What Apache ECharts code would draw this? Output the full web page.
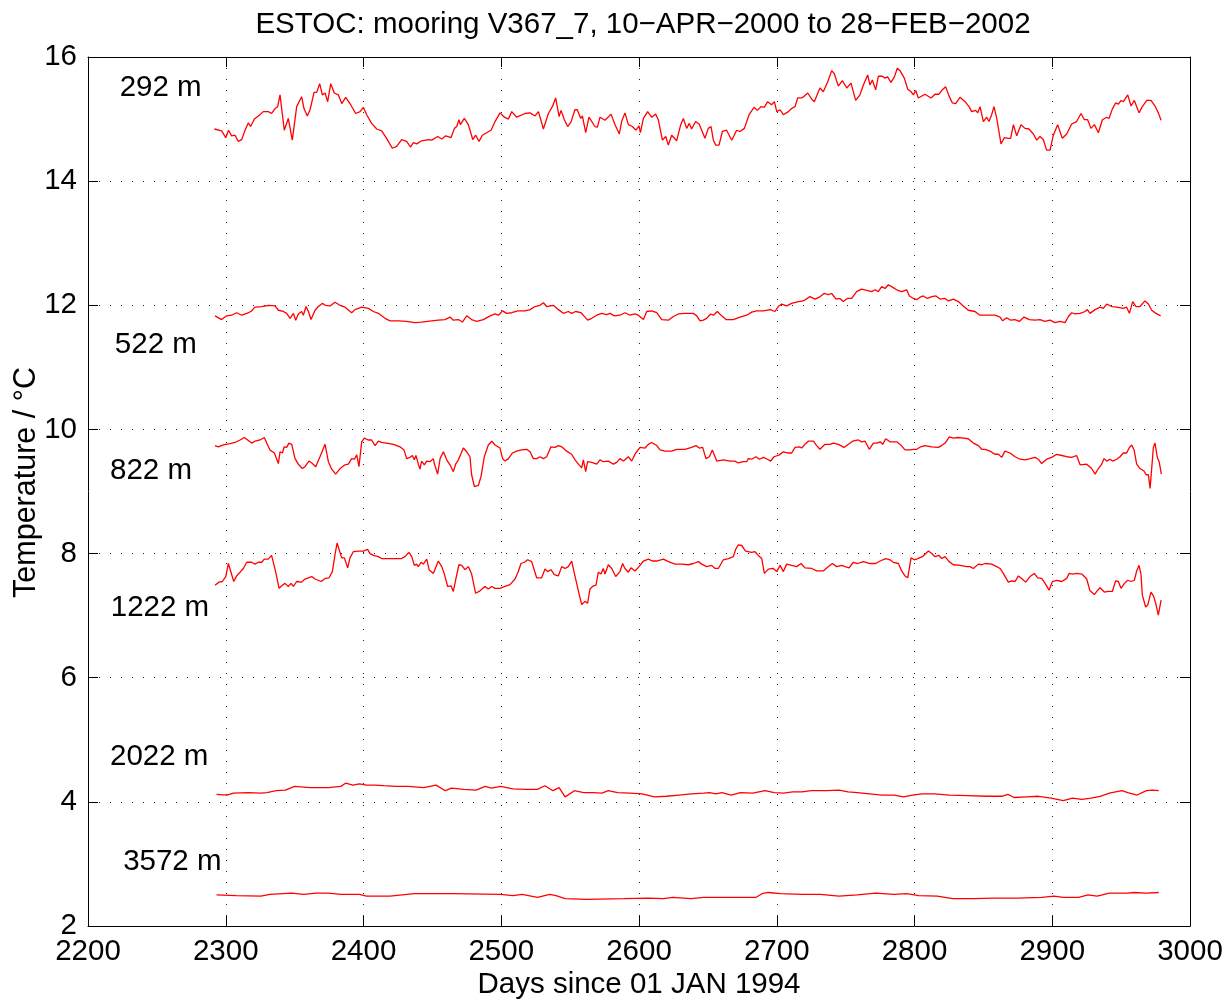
<!DOCTYPE html>
<html>
<head>
<meta charset="utf-8">
<script src="https://cdn.jsdelivr.net/npm/echarts@6/dist/echarts.min.js"></script>
<style>
  html, body { margin: 0; padding: 0; background: #fff; }
  #chart { width: 1231px; height: 1001px; }
</style>
</head>
<body>
<div id="chart"></div>
<script>
// axis setup
const xMin = 2200, xMax = 3000, xStep = 100
const yMin = 2, yMax = 16, yStep = 2

// depth labels, placed in data coordinates (left edge, vertical middle)
const depthLabels = ['292 m', '522 m', '822 m', '1222 m', '2022 m', '3572 m']
const labelDays = [2223, 2219.5, 2216, 2216.5, 2216, 2225.5]
const labelTemps = [15.5, 11.36, 9.34, 7.12, 4.73, 3.03]

// [day, temperature]
const t292 = [[2291.7,14.84],[2297,14.81],[2300,14.70],[2302,14.82],[2304.3,14.73],[2306.7,14.74],[2309.1,14.64],[2311.6,14.67],[2314,14.82],[2316.4,14.94],[2318,14.88],[2320.8,15.00],[2323.7,15.05],[2327.3,15.12],[2330.9,15.12],[2333.3,15.09],[2335.8,15.17],[2337.7,15.20],[2339.4,15.39],[2340,15.37],[2342.5,14.82],[2345.4,15.01],[2348.3,14.66],[2351.5,15.20],[2355.1,15.36],[2356.8,15.17],[2359.2,15.05],[2361.2,15.15],[2364.1,15.43],[2366,15.43],[2368.2,15.57],[2370.1,15.39],[2372.1,15.42],[2374,15.28],[2376.2,15.57],[2378.8,15.42],[2381.7,15.39],[2384.2,15.25],[2387.1,15.35],[2390.2,15.25],[2394.3,15.09],[2397.5,15.12],[2399.9,15.19],[2402.3,15.07],[2405.9,14.93],[2409.6,14.84],[2413.2,14.81],[2416.8,14.69],[2420.9,14.53],[2424.1,14.56],[2427.7,14.67],[2431.3,14.64],[2434.2,14.55],[2436.2,14.62],[2438.6,14.60],[2442.2,14.65],[2447.1,14.67],[2449.5,14.66],[2453.9,14.72],[2456.8,14.68],[2459.7,14.73],[2463.5,14.70],[2466,14.85],[2467.7,14.88],[2469.3,14.99],[2470.3,14.91],[2473.2,15.01],[2476.1,14.91],[2479.3,14.67],[2481.4,14.74],[2483.9,14.64],[2486.3,14.74],[2489.4,14.78],[2492.6,14.82],[2495.5,14.96],[2499.1,15.10],[2502.3,15.03],[2505.2,15.00],[2507.6,15.12],[2511.2,15.03],[2517.3,15.09],[2520.9,15.10],[2524.5,15.05],[2527,15.12],[2530.6,14.84],[2534.2,15.09],[2537.1,15.20],[2539.5,15.34],[2542,15.04],[2543.4,15.14],[2545.8,14.99],[2548.2,14.88],[2550.6,14.95],[2553.5,15.15],[2555.2,15.15],[2557.7,15.01],[2558.9,15.05],[2561.3,14.78],[2563.7,15.03],[2565.1,15.01],[2568,14.88],[2569.8,14.87],[2571.7,15.03],[2575.3,14.98],[2579.7,15.08],[2582.6,14.91],[2585.7,14.76],[2587.4,14.96],[2589.8,15.10],[2592.3,14.91],[2595.2,14.88],[2597.8,14.82],[2600,14.89],[2601,14.78],[2603.2,15.01],[2606.3,15.12],[2609.2,15.03],[2612.1,15.08],[2614,14.99],[2617,14.66],[2619.4,14.72],[2621.3,14.58],[2623.7,14.74],[2627.3,14.65],[2630.3,14.91],[2632.2,15.01],[2634.6,14.85],[2636.5,14.93],[2638.2,14.84],[2641.1,14.96],[2643.6,14.92],[2645.5,14.82],[2647.9,14.69],[2650.3,14.85],[2652.3,14.88],[2654,14.66],[2655.7,14.58],[2658.1,14.58],[2660.5,14.80],[2663.6,14.82],[2667.3,14.66],[2670.9,14.82],[2673.3,14.80],[2676.5,14.85],[2679.9,15.07],[2683.5,15.19],[2685.9,15.14],[2688.6,15.20],[2691,15.19],[2693.4,15.28],[2696.3,15.23],[2698.3,15.28],[2700,15.12],[2702.4,15.15],[2704.8,15.07],[2708.4,15.12],[2710.8,15.17],[2713.3,15.20],[2715.2,15.34],[2718.1,15.34],[2720,15.37],[2722.5,15.42],[2725.4,15.32],[2727.3,15.28],[2730.2,15.44],[2731.4,15.50],[2733.8,15.44],[2737,15.60],[2739.9,15.78],[2741.8,15.73],[2744.7,15.53],[2747.6,15.62],[2750.8,15.50],[2753.9,15.58],[2757.3,15.30],[2760.4,15.39],[2762.9,15.55],[2766,15.71],[2767.7,15.55],[2769.4,15.63],[2771.8,15.47],[2773.8,15.69],[2776.7,15.69],[2778.6,15.66],[2780.5,15.68],[2782.9,15.59],[2785.4,15.68],[2787.5,15.82],[2789.5,15.78],[2792.6,15.66],[2795.1,15.48],[2797.5,15.44],[2799.2,15.39],[2800.9,15.46],[2802.8,15.34],[2807.6,15.40],[2812,15.34],[2814.9,15.40],[2817.8,15.40],[2819.7,15.46],[2822.6,15.52],[2825.1,15.37],[2827.5,15.26],[2829.9,15.25],[2833,15.35],[2836.7,15.28],[2839.6,15.20],[2841.5,15.12],[2844.4,15.14],[2845.9,15.10],[2847.6,15.20],[2850,14.96],[2852.4,15.03],[2854.1,14.96],[2856,15.07],[2857.7,15.20],[2859.7,15.01],[2862.8,14.60],[2865.2,14.70],[2868.1,14.69],[2869.8,14.69],[2871.8,14.91],[2874.2,14.73],[2877.3,14.91],[2880.2,14.85],[2883.1,14.84],[2886.3,14.76],[2888.7,14.66],[2891.1,14.72],[2893.5,14.67],[2895.9,14.50],[2898.4,14.50],[2900.8,14.74],[2903.9,14.91],[2907.3,14.69],[2910.5,14.76],[2914.1,14.92],[2917.7,14.96],[2920.9,15.09],[2923.3,14.99],[2925.7,14.99],[2928.1,14.85],[2930.6,14.91],[2933.5,14.78],[2936.4,14.99],[2939.5,15.03],[2941.2,15.01],[2943.6,15.16],[2946,15.26],[2948,15.24],[2950,15.30],[2951.6,15.28],[2954.8,15.39],[2957.2,15.21],[2959.6,15.30],[2963,15.10],[2965.4,15.20],[2968.6,15.30],[2971.7,15.30],[2974.6,15.21],[2977,15.10],[2979,14.98]]

const t522 = [[2292.2,11.83],[2297,11.77],[2300.7,11.83],[2304.3,11.84],[2307.9,11.88],[2311.6,11.84],[2315.2,11.87],[2318.3,11.90],[2321.2,11.97],[2326.1,11.98],[2330.9,12.00],[2335.8,11.99],[2338.2,11.92],[2341.8,11.90],[2344.2,11.87],[2346.7,11.79],[2349.1,11.87],[2350.8,11.76],[2352.7,11.86],[2355.1,11.90],[2356.3,11.84],[2358.3,11.98],[2360,11.90],[2361.9,11.77],[2364.8,11.92],[2367.2,11.98],[2370.1,12.03],[2372.5,12.00],[2375.7,11.99],[2379.3,12.05],[2382.9,12.00],[2386.6,11.97],[2391.4,11.88],[2393.8,11.93],[2398.7,11.97],[2403.5,11.95],[2407.2,11.90],[2410.8,11.87],[2415.6,11.79],[2419.3,11.75],[2425.3,11.75],[2431.3,11.74],[2437.4,11.72],[2442.2,11.73],[2449.5,11.75],[2454.3,11.76],[2459.2,11.77],[2462.8,11.81],[2465.2,11.76],[2468.9,11.77],[2471.8,11.73],[2474.9,11.83],[2478.5,11.77],[2482.2,11.74],[2487,11.77],[2491.9,11.83],[2495.5,11.86],[2497.9,11.84],[2501,11.91],[2503.9,11.87],[2507.6,11.88],[2512,11.91],[2517.3,11.91],[2520.9,11.93],[2524.5,11.98],[2528.2,12.00],[2530.6,12.04],[2533,11.98],[2537.8,12.00],[2541.5,11.93],[2545.1,11.87],[2548.7,11.90],[2551.1,11.87],[2554,11.90],[2557.9,11.88],[2560.8,11.81],[2562.7,11.76],[2565.7,11.79],[2569.3,11.84],[2572.9,11.87],[2576.5,11.85],[2579,11.87],[2582.1,11.83],[2586.2,11.84],[2589.9,11.88],[2593.5,11.84],[2597.1,11.86],[2599.5,11.84],[2603.2,11.77],[2605.6,11.90],[2609.2,11.91],[2612.9,11.88],[2616.5,11.77],[2621.3,11.76],[2625,11.82],[2628.6,11.86],[2633.4,11.87],[2639.4,11.87],[2641.9,11.83],[2644.3,11.75],[2646.7,11.76],[2649.1,11.79],[2652,11.86],[2654,11.84],[2656.9,11.90],[2660,11.83],[2663.2,11.77],[2668.5,11.77],[2673.3,11.81],[2678.2,11.84],[2681.8,11.89],[2685.4,11.91],[2690.3,11.91],[2695.1,11.93],[2698.7,11.90],[2701.1,11.98],[2703.6,12.02],[2707.2,11.99],[2710.8,12.03],[2715.7,12.06],[2719.3,12.07],[2724.1,12.14],[2727.8,12.10],[2730.9,12.13],[2734.3,12.19],[2737.4,12.17],[2739.9,12.19],[2743,12.10],[2745.9,12.11],[2748.3,12.06],[2751.2,12.11],[2754.4,12.11],[2758,12.22],[2761.6,12.26],[2765.3,12.24],[2768.9,12.22],[2771.3,12.25],[2773.7,12.22],[2776.2,12.30],[2778.6,12.27],[2781,12.33],[2783.4,12.30],[2787,12.25],[2790.7,12.22],[2794.3,12.25],[2796.3,12.15],[2799.2,12.11],[2801.6,12.09],[2804,12.13],[2806.4,12.15],[2809.3,12.11],[2812.5,12.14],[2815.6,12.15],[2818.5,12.10],[2822.2,12.11],[2824.6,12.07],[2828.2,12.10],[2831.8,12.06],[2835.4,11.99],[2839.1,11.92],[2843.9,11.90],[2847.5,11.84],[2852.4,11.84],[2858.4,11.84],[2862.1,11.81],[2864,11.75],[2866.9,11.80],[2869.8,11.76],[2873,11.77],[2876.1,11.74],[2879.5,11.81],[2883.4,11.77],[2887.5,11.76],[2891.1,11.77],[2894.7,11.74],[2898.4,11.76],[2902,11.72],[2905.6,11.74],[2909.3,11.72],[2911.7,11.82],[2914.1,11.88],[2916.5,11.86],[2920.2,11.87],[2923.8,11.90],[2925.5,11.93],[2927.4,11.87],[2931.1,11.93],[2934.7,11.97],[2937.1,11.95],[2939.5,12.02],[2943.2,11.98],[2946.8,11.97],[2951.6,11.95],[2954,11.97],[2956,11.87],[2958.4,12.06],[2960.8,11.98],[2963.7,11.98],[2967.3,12.07],[2969.8,12.02],[2972.2,11.92],[2975.3,11.87],[2978.7,11.83]]

const t822 = [[2292.2,9.74],[2294.6,9.72],[2298.2,9.75],[2303.1,9.77],[2306.7,9.79],[2310.4,9.83],[2313.5,9.87],[2315.9,9.83],[2318.8,9.78],[2321.2,9.81],[2324.9,9.83],[2328,9.87],[2329.7,9.78],[2332.1,9.67],[2335.3,9.62],[2338.2,9.45],[2339.4,9.64],[2341.1,9.62],[2342.5,9.72],[2344.2,9.71],[2345.9,9.78],[2347.9,9.76],[2350.3,9.53],[2352.7,9.44],[2355.6,9.37],[2357.5,9.40],[2360.4,9.49],[2362.9,9.45],[2365.3,9.40],[2368.4,9.56],[2372.1,9.76],[2374.5,9.48],[2376.9,9.36],[2379.8,9.28],[2383,9.37],[2386.6,9.43],[2389,9.44],[2391.4,9.53],[2393.4,9.52],[2395.1,9.59],[2396.7,9.40],[2398.7,9.80],[2400.6,9.86],[2403.5,9.83],[2405.9,9.83],[2408.4,9.74],[2410.8,9.81],[2413.2,9.79],[2416.8,9.78],[2421.7,9.76],[2426.5,9.72],[2429.4,9.67],[2431.3,9.53],[2433.8,9.55],[2435.5,9.58],[2436.9,9.51],[2438.1,9.58],[2439.8,9.44],[2441,9.36],[2442.2,9.49],[2444.2,9.43],[2445.9,9.49],[2448.3,9.48],[2450.7,9.53],[2451.4,9.45],[2453.8,9.28],[2455.6,9.53],[2458,9.64],[2460.4,9.51],[2462.8,9.43],[2465.2,9.32],[2466.9,9.44],[2468.9,9.51],[2472.5,9.70],[2474.9,9.64],[2477.3,9.56],[2478.5,9.27],[2480.5,9.08],[2483.4,9.10],[2485.3,9.24],[2487.7,9.56],[2490.6,9.75],[2493.1,9.81],[2495.5,9.75],[2499.1,9.70],[2501,9.53],[2502.7,9.49],[2505.2,9.53],[2508.1,9.62],[2511.2,9.65],[2514.8,9.67],[2518.5,9.68],[2520.9,9.64],[2523.3,9.53],[2525.7,9.53],[2528.2,9.56],[2530.6,9.53],[2533,9.56],[2534.2,9.53],[2536.1,9.72],[2539,9.71],[2541.5,9.74],[2543.9,9.72],[2547.5,9.65],[2551.1,9.60],[2553.6,9.51],[2556,9.44],[2558.4,9.38],[2559.6,9.51],[2561.3,9.32],[2562.7,9.48],[2565.7,9.47],[2569.3,9.44],[2571.7,9.51],[2574.1,9.48],[2577.8,9.49],[2581.4,9.44],[2583.8,9.47],[2586.2,9.53],[2588.7,9.49],[2592.3,9.56],[2594.7,9.49],[2597.6,9.62],[2600.7,9.71],[2604.4,9.70],[2606.8,9.76],[2609.2,9.79],[2612.9,9.74],[2615.3,9.67],[2618.9,9.65],[2623.7,9.65],[2627.4,9.68],[2633.4,9.68],[2638.2,9.71],[2641.4,9.74],[2643.8,9.70],[2646.2,9.71],[2648.6,9.53],[2651.1,9.56],[2653.2,9.67],[2655.2,9.56],[2656.4,9.49],[2661.2,9.51],[2666.1,9.49],[2669.7,9.49],[2672.1,9.46],[2675.7,9.48],[2678.2,9.48],[2679.4,9.53],[2681.8,9.52],[2684.9,9.56],[2687.4,9.52],[2690.3,9.55],[2693.2,9.52],[2695.6,9.49],[2698,9.56],[2701.9,9.59],[2704.8,9.64],[2708.4,9.62],[2710.8,9.62],[2713.3,9.71],[2716.4,9.72],[2718.1,9.70],[2720.5,9.76],[2722.9,9.81],[2726.6,9.81],[2729,9.74],[2731.4,9.68],[2735,9.76],[2738.7,9.76],[2741.1,9.78],[2744.7,9.76],[2748.8,9.71],[2752,9.76],[2755.1,9.81],[2759.2,9.83],[2761.7,9.80],[2764.1,9.81],[2767.2,9.68],[2770.1,9.78],[2772.5,9.78],[2775,9.80],[2776.9,9.76],[2779.1,9.85],[2782.2,9.80],[2787.1,9.80],[2790,9.75],[2793.1,9.67],[2796.7,9.67],[2799.2,9.68],[2801.6,9.68],[2804.5,9.72],[2807.6,9.74],[2812.5,9.72],[2817.3,9.71],[2819.7,9.74],[2822.2,9.78],[2825.3,9.88],[2828.2,9.86],[2831.8,9.87],[2835.5,9.86],[2839.1,9.85],[2842.7,9.78],[2846.4,9.74],[2848.8,9.68],[2850,9.65],[2851.2,9.68],[2854.8,9.65],[2858.4,9.60],[2860.9,9.60],[2863.3,9.55],[2865.7,9.65],[2869.3,9.62],[2873,9.56],[2876.6,9.52],[2880.2,9.51],[2883.9,9.53],[2887.5,9.55],[2889.9,9.52],[2892.3,9.45],[2896,9.52],[2899.6,9.55],[2903.2,9.60],[2906.9,9.58],[2910.5,9.56],[2914.1,9.55],[2917.7,9.58],[2920.2,9.43],[2925,9.44],[2928.6,9.37],[2931.1,9.28],[2933.5,9.37],[2935.9,9.44],[2937.6,9.53],[2939.5,9.49],[2941.9,9.52],[2943.9,9.49],[2946.8,9.52],[2949.2,9.56],[2951.6,9.62],[2954,9.62],[2956,9.71],[2957.7,9.75],[2959.4,9.67],[2961.3,9.44],[2963.7,9.37],[2966.6,9.33],[2968.1,9.27],[2969.8,9.27],[2971,9.05],[2972.2,9.37],[2973.4,9.71],[2974.6,9.78],[2976.3,9.55],[2977.7,9.47],[2979.2,9.28]]

const t1222 = [[2292.2,7.49],[2295.1,7.54],[2297.5,7.55],[2300,7.63],[2301.9,7.84],[2303.8,7.70],[2305.8,7.55],[2307.9,7.64],[2310.4,7.70],[2312.8,7.76],[2315.2,7.86],[2318.8,7.86],[2321.2,7.83],[2323.7,7.86],[2326.1,7.86],[2328,7.91],[2330.9,7.91],[2333.3,7.97],[2334.6,7.98],[2336.2,7.71],[2338.7,7.44],[2341.1,7.49],[2343,7.52],[2345.4,7.47],[2347.4,7.52],[2349.1,7.47],[2351.5,7.55],[2355.1,7.54],[2357.5,7.59],[2362.4,7.63],[2364.8,7.59],[2369.2,7.55],[2372.1,7.60],[2375,7.61],[2377.4,7.71],[2379.3,7.98],[2380.8,8.17],[2382.2,8.15],[2384.2,7.93],[2386.1,7.93],[2388.5,7.77],[2390.2,7.93],[2392.6,8.03],[2396.3,8.04],[2399.9,8.04],[2403,8.07],[2404.7,8.00],[2407.2,7.97],[2410.8,7.95],[2413.2,7.92],[2420.5,7.92],[2427.7,7.92],[2430.1,7.95],[2433,8.02],[2435,7.95],[2436.9,7.81],[2438.6,7.83],[2439.8,7.79],[2441.8,7.86],[2443.4,7.83],[2445.9,7.91],[2447.6,7.74],[2450.7,7.68],[2454.3,7.88],[2456.8,7.79],[2458.7,7.67],[2461.1,7.47],[2463.5,7.48],[2465.2,7.39],[2467.7,7.66],[2469.3,7.82],[2471.3,7.81],[2473.7,7.74],[2476.1,7.79],[2478.5,7.67],[2481.4,7.36],[2484.6,7.40],[2488.2,7.47],[2490.6,7.43],[2493.1,7.47],[2495.5,7.44],[2499.1,7.44],[2502.7,7.47],[2506.4,7.50],[2510,7.59],[2512.4,7.71],[2514.3,7.84],[2516.8,7.86],[2519.2,7.90],[2522.1,7.87],[2523.3,7.84],[2525.7,7.61],[2529.3,7.61],[2531.8,7.75],[2533.7,7.71],[2536.1,7.74],[2538.5,7.66],[2541.4,7.64],[2543.9,7.79],[2546.3,7.76],[2548.7,7.79],[2551.1,7.88],[2553.5,7.64],[2554.8,7.67],[2556.4,7.36],[2558.4,7.18],[2560.8,7.23],[2562.7,7.20],[2564.4,7.43],[2566.9,7.48],[2568.8,7.49],[2570.5,7.70],[2572.4,7.67],[2574.1,7.76],[2575.3,7.67],[2577.7,7.82],[2580.2,7.76],[2583.1,7.63],[2586.2,7.71],[2588.1,7.84],[2589.8,7.76],[2592.3,7.70],[2594.2,7.77],[2597.1,7.72],[2600,7.79],[2603.2,7.88],[2606.8,7.91],[2609.7,7.88],[2612.8,7.88],[2617.7,7.91],[2621.3,7.87],[2626.1,7.83],[2630.9,7.83],[2635.8,7.82],[2639.5,7.84],[2643.1,7.87],[2645.5,7.83],[2649.1,7.79],[2652.8,7.81],[2655.2,7.76],[2657.6,7.76],[2661.2,7.90],[2664.9,7.92],[2668.5,7.95],[2670.2,8.07],[2672.1,8.14],[2674.5,8.13],[2677.4,8.04],[2681.8,8.02],[2684.2,8.03],[2686.6,7.97],[2689.1,7.92],[2691,7.68],[2693.9,7.75],[2697.5,7.76],[2700,7.71],[2702.4,7.81],[2704.8,7.71],[2707.2,7.83],[2710.8,7.81],[2714.5,7.79],[2717.6,7.84],[2720.5,7.77],[2725.4,7.76],[2729,7.72],[2733.8,7.72],[2737.5,7.79],[2740.4,7.84],[2743.5,7.79],[2747.1,7.81],[2749.6,7.79],[2752.5,7.77],[2755.6,7.86],[2758.7,7.84],[2762.9,7.87],[2767.7,7.84],[2771.8,7.84],[2775,7.88],[2779.1,7.92],[2782.2,7.90],[2784.6,7.86],[2788.3,7.84],[2790.7,7.72],[2793.1,7.64],[2795.1,7.61],[2797.5,7.93],[2799.9,7.90],[2802.3,7.92],[2805.7,7.95],[2810.1,8.04],[2812.5,8.00],[2814.9,7.95],[2817.8,7.97],[2819.7,7.92],[2822.2,7.95],[2825.1,7.87],[2828.2,7.82],[2833,7.81],[2837.9,7.79],[2840.3,7.79],[2842.7,7.76],[2846.4,7.83],[2848.8,7.82],[2851.2,7.84],[2856,7.83],[2859.7,7.79],[2862.1,7.76],[2864.5,7.68],[2868.1,7.54],[2870.6,7.56],[2873,7.55],[2875.4,7.64],[2877.8,7.60],[2880.7,7.54],[2883.9,7.63],[2887,7.68],[2889.4,7.61],[2892.3,7.60],[2894.8,7.52],[2897.7,7.41],[2900.1,7.55],[2903.2,7.57],[2906.9,7.55],[2910.5,7.60],[2912.2,7.68],[2914.6,7.67],[2917.7,7.68],[2921.4,7.67],[2923.3,7.63],[2925,7.59],[2927.4,7.40],[2930.6,7.34],[2932.3,7.39],[2934.7,7.45],[2937.8,7.38],[2940.7,7.39],[2943.6,7.39],[2946,7.56],[2948,7.55],[2949.9,7.44],[2952.4,7.52],[2954.8,7.57],[2957.2,7.55],[2959.6,7.57],[2961.3,7.72],[2963,7.81],[2964.4,7.67],[2965.4,7.33],[2967.8,7.14],[2969.3,7.17],[2971.7,7.38],[2973.6,7.31],[2975.1,7.20],[2977,7.01],[2979,7.25]]

const t2022 = [[2293.3,4.12],[2300.9,4.11],[2305.4,4.14],[2316.5,4.15],[2325.4,4.14],[2329.9,4.15],[2336.6,4.18],[2343.3,4.19],[2350,4.25],[2361.2,4.23],[2374.5,4.23],[2383.5,4.25],[2387,4.30],[2392.4,4.27],[2396.9,4.29],[2402.2,4.27],[2408,4.27],[2414.7,4.26],[2423.7,4.25],[2432.6,4.25],[2443.7,4.23],[2452.7,4.27],[2459.4,4.18],[2463.8,4.22],[2472.8,4.20],[2481.7,4.19],[2488.4,4.25],[2492.8,4.22],[2499.5,4.25],[2508.5,4.21],[2517.4,4.20],[2526.3,4.20],[2531.7,4.26],[2537.5,4.18],[2542,4.23],[2546.4,4.08],[2553.1,4.18],[2559.8,4.15],[2566.5,4.15],[2573.2,4.14],[2577.7,4.18],[2584.4,4.15],[2593.3,4.14],[2602.2,4.13],[2611.1,4.08],[2620.1,4.09],[2629,4.11],[2637.9,4.13],[2646.9,4.14],[2651.3,4.15],[2655.8,4.13],[2660.2,4.15],[2666.9,4.11],[2673.6,4.15],[2682.6,4.14],[2691.5,4.18],[2698.2,4.15],[2704.9,4.14],[2711.6,4.16],[2718.3,4.16],[2725,4.18],[2736.1,4.18],[2745.1,4.19],[2751.8,4.16],[2758.5,4.15],[2767.4,4.13],[2776.3,4.11],[2785.2,4.11],[2791.9,4.08],[2798.7,4.11],[2805.4,4.13],[2814.3,4.13],[2825.4,4.11],[2838.8,4.10],[2852.2,4.09],[2863.4,4.09],[2867.8,4.12],[2872.3,4.07],[2881.2,4.08],[2890.1,4.09],[2899.1,4.06],[2908,4.02],[2914.7,4.06],[2921.4,4.04],[2928.1,4.06],[2934.8,4.09],[2941.5,4.14],[2950.5,4.18],[2954.9,4.15],[2961.6,4.11],[2968.3,4.18],[2972.8,4.19],[2977.3,4.18]]

const t3572 = [[2293.3,2.50],[2307.6,2.49],[2325.4,2.48],[2332.1,2.51],[2347.8,2.53],[2356.7,2.51],[2365.6,2.53],[2374.5,2.53],[2383.5,2.51],[2396.9,2.51],[2402.2,2.48],[2419.2,2.48],[2428.1,2.50],[2437,2.52],[2463.8,2.52],[2499.5,2.51],[2508.5,2.49],[2515.2,2.51],[2526.3,2.46],[2535.3,2.51],[2539.7,2.49],[2546.4,2.44],[2562,2.43],[2588.8,2.44],[2606.7,2.45],[2617.8,2.44],[2624.5,2.46],[2637.9,2.44],[2646.9,2.46],[2669.2,2.46],[2684.8,2.46],[2689.3,2.52],[2693.8,2.54],[2702.7,2.52],[2718.3,2.51],[2731.7,2.51],[2745.1,2.48],[2758.5,2.50],[2771.8,2.53],[2785.2,2.51],[2794.2,2.52],[2803.1,2.49],[2816.5,2.48],[2827.7,2.44],[2843.3,2.44],[2856.7,2.45],[2874.6,2.45],[2892.4,2.46],[2901.3,2.48],[2908,2.46],[2919.2,2.46],[2925.9,2.50],[2932.6,2.48],[2941.5,2.53],[2954.9,2.53],[2959.4,2.54],[2968.3,2.53],[2977.3,2.54]]

const seriesData = [t292, t522, t822, t1222, t2022, t3572]

const chart = echarts.init(document.getElementById('chart'))
const fontFamily = '"Liberation Sans", Arial, Helvetica, sans-serif'
const fontSize = 29.5
const dottedGrid = { show: true, lineStyle: { color: '#222', type: [1, 10], width: 1 } }
const insideTick = { show: true, inside: true, length: 10, lineStyle: { color: '#000', width: 1 } }
const solidLine = { show: true, onZero: false, lineStyle: { color: '#000', width: 1 } }

chart.setOption({
  backgroundColor: '#fff',
  animation: false,
  title: {
    text: 'ESTOC: mooring V367_7, 10\u2212APR\u22122000 to 28\u2212FEB\u22122002',
    left: 638,
    textAlign: 'center',
    top: 5,
    textStyle: { fontFamily, fontSize, fontWeight: 'normal', color: '#000' }
  },
  grid: { left: 88, top: 57, width: 1102, height: 869, containLabel: false, outerBoundsMode: 'none' },
  xAxis: [
    {
      type: 'value', min: xMin, max: xMax, interval: xStep, position: 'bottom',
      name: 'Days since 01 JAN 1994', nameLocation: 'middle', nameGap: 44, nameMoveOverlap: false,
      nameTextStyle: { fontFamily, fontSize, color: '#000' },
      axisLine: solidLine, axisTick: insideTick,
      axisLabel: { fontFamily, fontSize, color: '#000', margin: 11, formatter: (v) => String(v) },
      splitLine: dottedGrid
    },
    {
      type: 'value', min: xMin, max: xMax, interval: xStep, position: 'top',
      axisLine: solidLine, axisTick: insideTick, axisLabel: { show: false }, splitLine: { show: false }
    }
  ],
  yAxis: [
    {
      type: 'value', min: yMin, max: yMax, interval: yStep, position: 'left',
      name: 'Temperature / \u00B0C', nameLocation: 'middle', nameGap: 46, nameRotate: 90, nameMoveOverlap: false,
      nameTextStyle: { fontFamily, fontSize: 30.5, color: '#000', padding: [0, 0, 0, 18] },
      axisLine: solidLine, axisTick: insideTick,
      axisLabel: { fontFamily, fontSize, color: '#000', margin: 11, formatter: (v) => String(v) },
      splitLine: dottedGrid
    },
    {
      type: 'value', min: yMin, max: yMax, interval: yStep, position: 'right',
      axisLine: solidLine, axisTick: insideTick, axisLabel: { show: false }, splitLine: { show: false }
    }
  ],
  series: seriesData.map((points, idx) => ({
    name: depthLabels[idx],
    type: 'line',
    xAxisIndex: 0,
    yAxisIndex: 0,
    data: points,
    showSymbol: false,
    symbol: 'none',
    lineStyle: { color: '#ff0000', width: 1.3 },
    z: 3
  }))
})

// depth labels positioned through the axes
const labelGraphics = depthLabels.map((text, idx) => {
  const [px, py] = chart.convertToPixel({ gridIndex: 0 }, [labelDays[idx], labelTemps[idx]])
  return {
    type: 'text',
    x: px,
    y: py,
    style: { text, fontFamily, fontSize, fill: '#000', verticalAlign: 'middle', align: 'left' }
  }
})
chart.setOption({ graphic: labelGraphics })
</script>
</body>
</html>
